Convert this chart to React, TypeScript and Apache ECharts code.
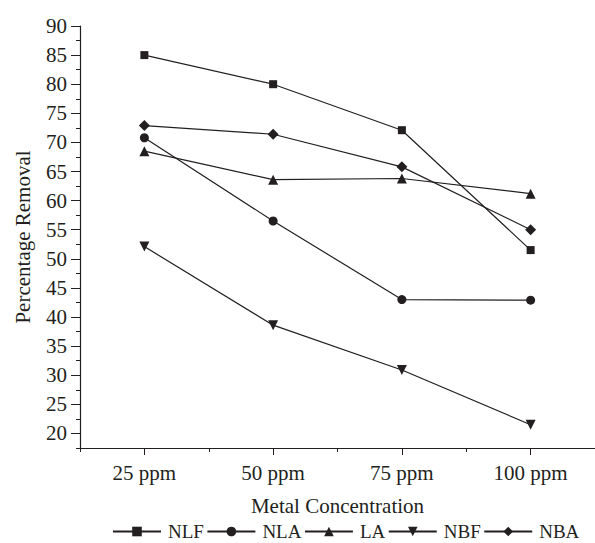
import React, { useEffect, useRef } from "react";
import * as echarts from "echarts";

const categories = ["25 ppm", "50 ppm", "75 ppm", "100 ppm"];
const seriesNames = ["NLF", "NLA", "LA", "NBF", "NBA"];
const nlf = [85.0, 80.0, 72.1, 51.5];
const nla = [70.8, 56.5, 43.0, 42.9];
const la = [68.5, 63.6, 63.8, 61.2];
const nbf = [52.1, 38.6, 30.9, 21.5];
const nba = [72.9, 71.4, 65.8, 55.0];
const yMajorTicks = [20, 25, 30, 35, 40, 45, 50, 55, 60, 65, 70, 75, 80, 85, 90];

const FONT = "Liberation Serif";
const INK = "#231f20";

export default function App() {
  const ref = useRef<HTMLDivElement>(null);
  useEffect(() => {
    if (!ref.current) return;
    const chart = echarts.init(ref.current, undefined, { renderer: "svg" });
    const symbols = ["rect", "circle", "triangle", "path://M0,0 L10,0 L5,9 Z", "diamond"];
    const sizes = [8, 9, 10, 10, 11];
    const values = [nlf, nla, la, nbf, nba];
    chart.setOption({
      animation: false,
      backgroundColor: "#ffffff",
      textStyle: { fontFamily: FONT, color: INK },
      grid: { left: 80, right: -9, top: 26, bottom: 95, containLabel: false },
      legend: {
        left: 112,
        top: 522,
        padding: 0,
        itemWidth: 48,
        itemHeight: 12,
        itemGap: 2.5,
        textStyle: { fontFamily: FONT, fontSize: 19, color: INK, padding: [0, 0, 0, 2] },
        data: seriesNames,
      },
      xAxis: [
        {
          type: "category",
          data: categories,
          boundaryGap: true,
          position: "bottom",
          axisLine: { show: true, lineStyle: { color: INK, width: 1.2 } },
          axisTick: { show: true, alignWithLabel: true, length: 7, lineStyle: { color: INK, width: 1 } },
          axisLabel: { fontFamily: FONT, fontSize: 21, color: INK, margin: 14 },
          name: "Metal Concentration",
          nameLocation: "middle",
          nameGap: 47,
          nameTextStyle: { fontFamily: FONT, fontSize: 21, color: INK },
          splitLine: { show: false },
        },
        {
          type: "category",
          data: categories,
          boundaryGap: true,
          position: "bottom",
          axisLine: { show: false },
          axisTick: { show: true, alignWithLabel: false, length: 4, lineStyle: { color: INK, width: 1 } },
          axisLabel: { show: false },
          splitLine: { show: false },
        },
      ],
      yAxis: [
        {
          type: "value",
          min: 17.5,
          max: 90,
          interval: 2.5,
          position: "left",
          axisLine: { show: true, lineStyle: { color: INK, width: 1.2 } },
          axisTick: { show: true, length: 4, lineStyle: { color: INK, width: 1 } },
          axisLabel: { show: false },
          splitLine: { show: false },
          name: "Percentage Removal",
          nameLocation: "middle",
          nameGap: 47,
          nameTextStyle: { fontFamily: FONT, fontSize: 21, color: INK },
        },
        {
          type: "value",
          min: 17.5,
          max: 90,
          position: "left",
          axisLine: { show: false },
          axisTick: { show: true, length: 9, customValues: yMajorTicks, lineStyle: { color: INK, width: 1 } },
          axisLabel: { show: true, customValues: yMajorTicks, fontFamily: FONT, fontSize: 21, color: INK, margin: 13 },
          splitLine: { show: false },
        },
      ],
      series: seriesNames.map((name, i) => ({
        name,
        type: "line",
        xAxisIndex: 0,
        yAxisIndex: 0,
        data: values[i],
        symbol: symbols[i],
        symbolSize: sizes[i],
        showAllSymbol: true,
        lineStyle: { color: INK, width: 1.2 },
        itemStyle: { color: INK, borderWidth: 0 },
        emphasis: { disabled: true },
      })),
    });
    return () => chart.dispose();
  }, []);
  return (
    <div
      ref={ref}
      style={{ position: "absolute", left: 0, top: 0, width: 595, height: 543, background: "#fff" }}
    />
  );
}
